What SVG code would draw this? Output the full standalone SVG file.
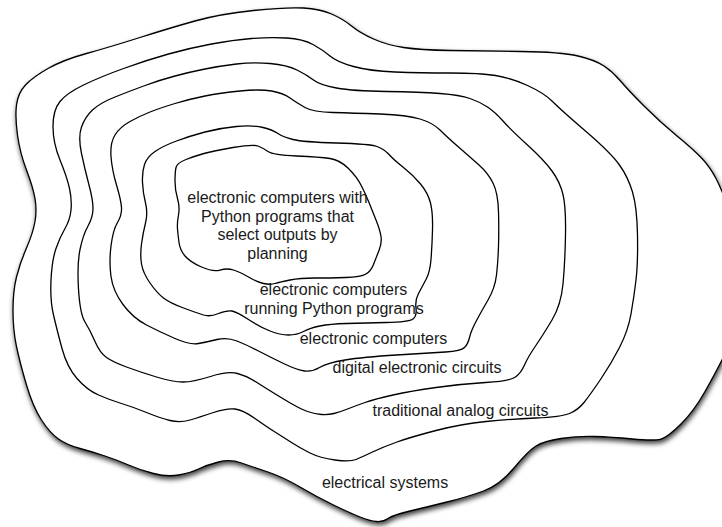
<svg xmlns="http://www.w3.org/2000/svg" width="722" height="527" viewBox="0 0 722 527">
<defs>
<style>
.blob{fill:#fff;stroke:#000;stroke-width:1.3;stroke-linejoin:round}
.lbl{font-family:"Liberation Sans",Arial,Helvetica,sans-serif;font-size:16px;fill:#1a1a1a;text-anchor:middle}
</style>
<filter id="shadow" x="-10%" y="-10%" width="120%" height="120%">
<feDropShadow dx="1" dy="3" stdDeviation="2.6" flood-color="#000" flood-opacity="0.75"/>
</filter>
</defs>
<rect width="722" height="527" fill="#fff"/>
<g id="electrical-systems">
<path class="blob" filter="url(#shadow)" d="M16.5,105 Q18,93 25.5,85 Q33,77 48,68.5 Q63,60 86.5,53.5 Q110,47 140,37.5 Q170,28 195,21 Q220,14 253.5,10.5 Q287,7 303.5,8 Q320,9 331.5,14 Q343,19 351.5,26 Q360,33 373.5,39 Q387,45 403.5,47.5 Q420,50 450,50.5 Q480,51 520.5,51.5 Q561,52 578,56 Q595,60 604,66 Q613,72 620.5,81 Q628,90 644,106 Q660,122 677,136 Q694,150 702,158.5 Q710,167 716,178.5 Q722,190 729,210 Q736,230 738,260 Q740,290 736,315 Q732,340 724,356 Q716,372 705,391.5 Q694,411 681,424 Q668,437 661,439 Q654,441 632.5,439 Q611,437 594.5,436.5 Q578,436 561,438.5 Q544,441 536,446 Q528,451 514,468 Q500,485 483.5,491 Q467,497 447,502 Q427,507 410,511 Q393,515 388,518.5 Q383,522 376.5,521.5 Q370,521 360,517 Q350,513 333.5,505 Q317,497 300,487 Q283,477 268,472 Q253,467 241.5,463 Q230,459 218.5,462 Q207,465 198.5,469 Q190,473 178.5,475 Q167,477 153.5,473.5 Q140,470 128.5,465 Q117,460 105,456 Q93,452 80,448.5 Q67,445 58.5,439 Q50,433 41.5,420 Q33,407 26.5,385 Q20,363 16.5,346.5 Q13,330 13,310.5 Q13,291 16.5,277 Q20,263 26.5,248 Q33,233 35,221.5 Q37,210 35,198.5 Q33,187 26.5,170 Q20,153 17.5,135 Q15,117 16.5,105 Z"/>
</g>
<g id="traditional-analog-circuits">
<path class="blob" d="M53,126.5 Q53,110 60,101.5 Q67,93 83.5,85 Q100,77 123.5,68.5 Q147,60 168.5,54 Q190,48 211.5,44 Q233,40 251.5,38.5 Q270,37 286.5,38 Q303,39 313,44.5 Q323,50 330,56 Q337,62 353.5,66.5 Q370,71 395,72 Q420,73 450,73 Q480,73 495.5,75.5 Q511,78 527.5,85.5 Q544,93 552.5,101.5 Q561,110 586,131.5 Q611,153 619.5,165 Q628,177 632.5,192 Q637,207 637.5,235 Q638,263 636,280 Q634,297 631,314 Q628,331 619.5,347.5 Q611,364 600.5,379.5 Q590,395 584,402.5 Q578,410 569.5,413.5 Q561,417 536,418 Q511,419 486,421.5 Q461,424 436,430.5 Q411,437 397,442 Q383,447 372.5,452 Q362,457 356,459.5 Q350,462 335,460 Q320,458 310,453 Q300,448 291.5,442.5 Q283,437 275,432 Q267,427 255,418.5 Q243,410 235,409 Q227,408 213.5,412.5 Q200,417 190,420 Q180,423 170,420.5 Q160,418 146.5,412.5 Q133,407 121.5,403.5 Q110,400 98.5,395 Q87,390 77,378.5 Q67,367 62,348.5 Q57,330 53.5,315 Q50,300 51,280 Q52,260 56,248.5 Q60,237 65,228.5 Q70,220 71,210 Q72,200 69.5,188.5 Q67,177 60,160 Q53,143 53,126.5 Z"/>
</g>
<g id="digital-electronic-circuits">
<path class="blob" d="M81.5,153.5 Q78,137 81.5,127 Q85,117 92.5,110 Q100,103 115,97 Q130,91 145,85.5 Q160,80 175,76 Q190,72 205,69 Q220,66 236.5,64 Q253,62 270,63.5 Q287,65 297,70 Q307,75 313.5,80 Q320,85 336.5,88 Q353,91 386.5,91.5 Q420,92 440,93.5 Q460,95 470,98.5 Q480,102 487.5,107 Q495,112 503,121 Q511,130 527.5,145 Q544,160 552,171 Q560,182 563,194.5 Q566,207 565.5,235 Q565,263 563,284 Q561,305 552,320 Q543,335 535.5,346 Q528,357 524.5,365 Q521,373 515.5,377 Q510,381 485.5,382.5 Q461,384 436,387.5 Q411,391 393,395 Q375,399 365,402.5 Q355,406 347.5,409 Q340,412 334,413.5 Q328,415 321.5,414.5 Q315,414 307.5,411.5 Q300,409 283.5,399 Q267,389 257,382.5 Q247,376 237.5,373.5 Q228,371 210.5,376.5 Q193,382 183,382 Q173,382 156.5,377 Q140,372 126.5,367 Q113,362 106.5,357.5 Q100,353 95,341.5 Q90,330 85,322 Q80,314 78.5,289 Q77,264 80,249.5 Q83,235 88,226 Q93,217 93,208.5 Q93,200 89,185 Q85,170 81.5,153.5 Z"/>
</g>
<g id="electronic-computers">
<path class="blob" d="M111,156.5 Q110,143 115,135 Q120,127 130,121.5 Q140,116 150,112 Q160,108 175,103.5 Q190,99 205,96 Q220,93 240,91 Q260,89 271.5,91 Q283,93 290,98 Q297,103 305,107.5 Q313,112 333,112.5 Q353,113 380,114 Q407,115 420,119 Q433,123 440,130 Q447,137 458.5,147 Q470,157 479,165 Q488,173 493,183 Q498,193 498.5,211.5 Q499,230 498.5,246 Q498,262 496.5,275 Q495,288 488,300 Q481,312 476,321.5 Q471,331 469.5,337.5 Q468,344 464.5,347.5 Q461,351 445.5,352 Q430,353 396.5,355 Q363,357 345,360 Q327,363 319.5,367.5 Q312,372 304.5,371 Q297,370 283.5,363.5 Q270,357 258.5,351 Q247,345 237,341 Q227,337 217,339.5 Q207,342 198.5,343.5 Q190,345 175,338.5 Q160,332 146.5,325 Q133,318 123,304.5 Q113,291 111,276.5 Q109,262 111,246 Q113,230 117.5,222.5 Q122,215 121.5,207.5 Q121,200 116.5,185 Q112,170 111,156.5 Z"/>
</g>
<g id="python-programs">
<path class="blob" d="M144.5,164.5 Q147,157 155,151.5 Q163,146 176.5,141 Q190,136 205,132 Q220,128 236.5,126.5 Q253,125 263,127.5 Q273,130 278,133.5 Q283,137 293,139.5 Q303,142 336.5,143 Q370,144 377,146.5 Q384,149 389,154.5 Q394,160 403.5,167.5 Q413,175 420.5,184 Q428,193 430.5,203 Q433,213 432.5,230 Q432,247 431,259.5 Q430,272 426,279.5 Q422,287 418.5,293.5 Q415,300 416,308 Q417,316 413,319 Q409,322 386,322.5 Q363,323 346.5,323.5 Q330,324 320,326 Q310,328 303.5,331.5 Q297,335 288.5,335 Q280,335 270,331 Q260,327 248.5,319.5 Q237,312 232,311 Q227,310 218.5,313.5 Q210,317 203.5,315 Q197,313 183.5,308 Q170,303 163.5,298 Q157,293 150,283 Q143,273 141.5,264 Q140,255 141.5,244 Q143,233 145.5,223 Q148,213 145.5,203 Q143,193 142.5,182.5 Q142,172 144.5,164.5 Z"/>
</g>
<g id="planning-programs">
<path class="blob" d="M176,167.5 Q177,163 186,159.5 Q195,156 204,153.5 Q213,151 233,147.5 Q253,144 258,146 Q263,148 268,151.5 Q273,155 296.5,156 Q320,157 330,158.5 Q340,160 348.5,168.5 Q357,177 361.5,186 Q366,195 369,202.5 Q372,210 376,220 Q380,230 381,236.5 Q382,243 379,250.5 Q376,258 373.5,264.5 Q371,271 366,274 Q361,277 345.5,277.5 Q330,278 315,278 Q300,278 290,280 Q280,282 275,283.5 Q270,285 263.5,283.5 Q257,282 248.5,277 Q240,272 233.5,270 Q227,268 220,270 Q213,272 201.5,267 Q190,262 185,256 Q180,250 179,242.5 Q178,235 177.5,229 Q177,223 178.5,215 Q180,207 177.5,198.5 Q175,190 175,181 Q175,172 176,167.5 Z"/>
</g>
<g id="labels">
<text class="lbl" x="277.5" y="203">electronic computers with</text>
<text class="lbl" x="277.5" y="221.5">Python programs that</text>
<text class="lbl" x="277.5" y="240">select outputs by</text>
<text class="lbl" x="277.5" y="258.5">planning</text>
<text class="lbl" x="333.5" y="295">electronic computers</text>
<text class="lbl" x="334" y="314">running Python programs</text>
<text class="lbl" x="373.5" y="344">electronic computers</text>
<text class="lbl" x="417" y="373">digital electronic circuits</text>
<text class="lbl" x="460.5" y="416">traditional analog circuits</text>
<text class="lbl" x="385" y="488">electrical systems</text>
</g>
</svg>
